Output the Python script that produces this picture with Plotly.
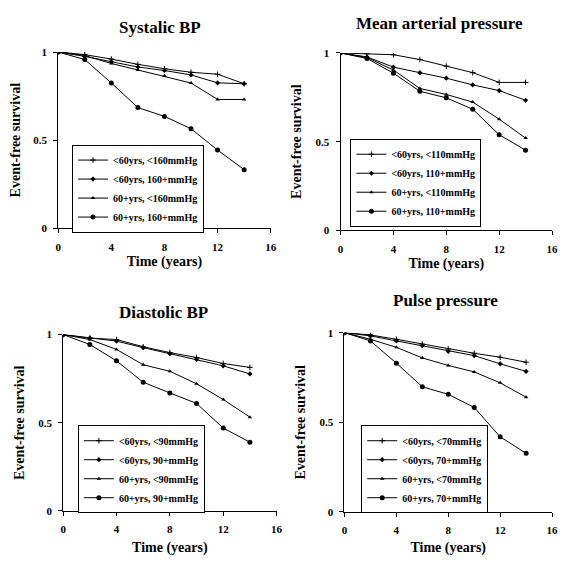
import plotly.graph_objects as go

years = [0, 2, 4, 6, 8, 10, 12, 14]

sys_labels = ["<60yrs, <160mmHg", "<60yrs, 160+mmHg", "60+yrs, <160mmHg", "60+yrs, 160+mmHg"]
sys_y1 = [1, 0.985, 0.96, 0.93, 0.905, 0.885, 0.874, 0.82]
sys_y2 = [1, 0.975, 0.945, 0.915, 0.895, 0.87, 0.825, 0.82]
sys_y3 = [1, 0.98, 0.935, 0.898, 0.865, 0.824, 0.731, 0.731]
sys_y4 = [1, 0.957, 0.824, 0.685, 0.635, 0.565, 0.444, 0.333]

map_labels = ["<60yrs, <110mmHg", "<60yrs, 110+mmHg", "60+yrs, <110mmHg", "60+yrs, 110+mmHg"]
map_y1 = [1, 0.996, 0.99, 0.963, 0.926, 0.889, 0.834, 0.834]
map_y2 = [1, 0.978, 0.92, 0.889, 0.858, 0.82, 0.788, 0.733]
map_y3 = [1, 0.974, 0.904, 0.80, 0.766, 0.723, 0.627, 0.52]
map_y4 = [1, 0.969, 0.886, 0.784, 0.747, 0.683, 0.539, 0.452]

dia_labels = ["<60yrs, <90mmHg", "<60yrs, 90+mmHg", "60+yrs, <90mmHg", "60+yrs, 90+mmHg"]
dia_y1 = [1, 0.98, 0.972, 0.931, 0.898, 0.87, 0.836, 0.814]
dia_y2 = [1, 0.98, 0.963, 0.926, 0.892, 0.86, 0.823, 0.777]
dia_y3 = [1, 0.972, 0.916, 0.829, 0.792, 0.721, 0.632, 0.532]
dia_y4 = [1, 0.944, 0.851, 0.73, 0.669, 0.61, 0.47, 0.39]

pp_labels = ["<60yrs, <70mmHg", "<60yrs, 70+mmHg", "60+yrs, <70mmHg", "60+yrs, 70+mmHg"]
pp_y1 = [1, 0.987, 0.963, 0.936, 0.909, 0.885, 0.863, 0.835]
pp_y2 = [1, 0.982, 0.954, 0.927, 0.896, 0.872, 0.826, 0.784]
pp_y3 = [1, 0.963, 0.918, 0.859, 0.817, 0.781, 0.72, 0.64]
pp_y4 = [1, 0.954, 0.83, 0.698, 0.656, 0.583, 0.419, 0.327]

titles = ["Systalic BP", "Mean arterial pressure", "Diastolic BP", "Pulse pressure"]
x_ticks = [0, 4, 8, 12, 16]
y_ticks = [0, 0.5, 1]
y_tick_text = ["0", "0.5", "1"]

panels = [
    (sys_labels, [sys_y1, sys_y2, sys_y3, sys_y4]),
    (map_labels, [map_y1, map_y2, map_y3, map_y4]),
    (dia_labels, [dia_y1, dia_y2, dia_y3, dia_y4]),
    (pp_labels, [pp_y1, pp_y2, pp_y3, pp_y4]),
]

# page body has an 8px margin; size the figure so the page is exactly the window
OFF = 8
W, H = 569 - 2 * OFF, 564 - 2 * OFF
FONT = "Liberation Serif"

def fx(px):
    return (px - OFF) / W

def fy(py):
    return 1 - (py - OFF) / H

# plot area pixel boxes (screen px): (x0, x1, ytop, ybottom)
boxes = [(56, 272, 47, 228), (343, 558, 48, 230), (61, 278, 337, 518), (347, 558, 335, 519)]
legend_pos = [(70, 142), (353, 136), (76, 430), (364, 430)]
title_pos = [(159, 22), (444, 18), (163, 314), (450, 302)]
xtitle_standoff = [4, 4, 10, 10]

markers = [
    dict(symbol="cross-thin", size=4, line=dict(width=1, color="black")),
    dict(symbol="diamond", size=4, color="black"),
    dict(symbol="triangle-up", size=4, color="black"),
    dict(symbol="circle", size=5, color="black"),
]

fig = go.Figure()
layout = dict(
    width=W, height=H, margin=dict(l=0, r=0, t=0, b=0),
    paper_bgcolor="white", plot_bgcolor="white", showlegend=True,
    font=dict(family=FONT, color="black", size=10),
)
annotations = []

for i, (labels, series) in enumerate(panels):
    n = "" if i == 0 else str(i + 1)
    leg = "legend" + n
    for j, (lab, ys) in enumerate(zip(labels, series)):
        fig.add_trace(go.Scatter(
            x=years, y=ys, name=lab, mode="lines+markers",
            line=dict(color="black", width=1), marker=markers[j],
            xaxis="x" + n, yaxis="y" + n, legend=leg,
        ))
    x0, x1, yt, yb = boxes[i]
    axis_common = dict(showline=True, linecolor="black", linewidth=1, ticks="outside",
                       ticklen=4, tickcolor="black", showgrid=False, zeroline=False,
                       ticklabelstandoff=4,
                       tickfont=dict(family=FONT, size=11, weight="bold"))
    layout["xaxis" + n] = dict(domain=[fx(x0), fx(x1)], range=[0, 16], tickvals=x_ticks,
                               anchor="y" + n,
                               title=dict(text="Time (years)", standoff=xtitle_standoff[i],
                                          font=dict(family=FONT, size=14, weight="bold")),
                               **axis_common)
    layout["yaxis" + n] = dict(domain=[fy(yb), fy(yt)], range=[0, 1], tickvals=y_ticks,
                               ticktext=y_tick_text, anchor="x" + n,
                               title=dict(text="Event-free survival", standoff=10,
                                          font=dict(family=FONT, size=14, weight="bold")),
                               **axis_common)
    lx, ly = legend_pos[i]
    layout[leg] = dict(x=fx(lx), y=fy(ly), xanchor="left", yanchor="top",
                       bordercolor="black", borderwidth=1, bgcolor="white",
                       itemwidth=30, tracegroupgap=0,
                       font=dict(family=FONT, size=10, weight="bold"))
    tx, ty = title_pos[i]
    annotations.append(dict(text=titles[i], x=fx(tx), y=fy(ty), xref="paper", yref="paper",
                            showarrow=False, xanchor="center", yanchor="middle",
                            font=dict(family=FONT, size=17, weight="bold")))

layout["annotations"] = annotations
fig.update_layout(**layout)
fig.write_html("out.html")
